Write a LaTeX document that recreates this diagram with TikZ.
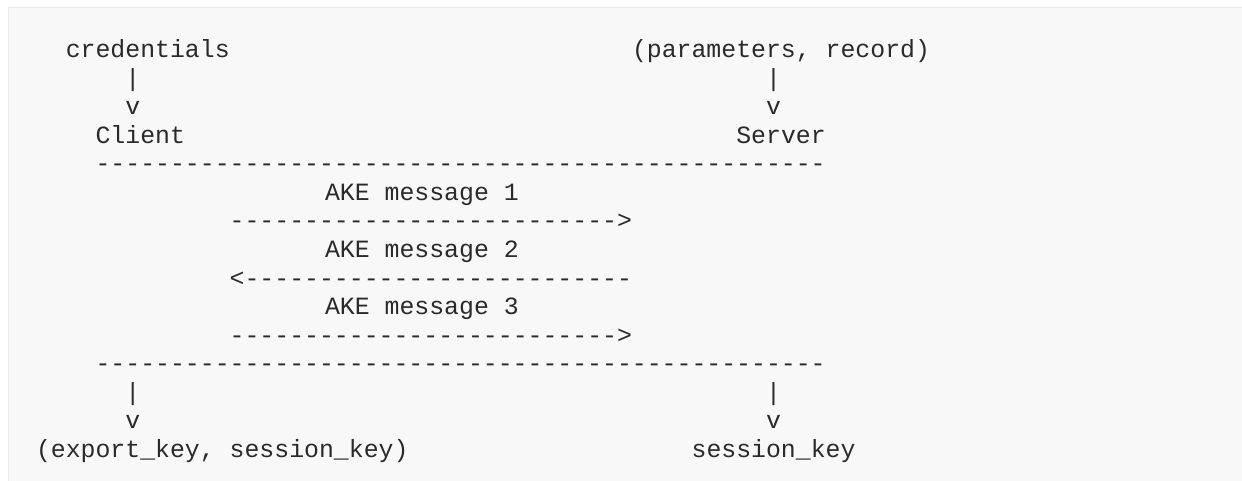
\documentclass[tikz,border=0pt]{standalone}
\usepackage{fontspec}
\setmonofont{Liberation Mono}
\definecolor{bg}{HTML}{F8F8F8}
\definecolor{bd}{HTML}{EBEBEB}
\definecolor{ink}{HTML}{2A2A2A}
\begin{document}
\begin{tikzpicture}[x=1pt,y=-1pt,
  txt/.style={anchor=base west, inner sep=0pt, outer sep=0pt,
    font=\ttfamily\fontsize{24.83pt}{28.5pt}\selectfont, text=ink}]
\def\w{14.9}
\def\xo{36}
\useasboundingbox (0,0) rectangle (1242,481);
\fill[white] (0,0) rectangle (1242,481);
\filldraw[fill=bg, draw=bd, line width=1.5pt] (8.5,7.5) rectangle (1260,500);
% line 0
\node[txt] (cred) at ({\xo+2*\w},58) {credentials};
\node[txt] (par) at ({\xo+40*\w},58) {(parameters, record)};
% lines 1-2
\node[txt] (p1) at ({\xo+6*\w},86.5) {|};
\node[txt] (p2) at ({\xo+49*\w},86.5) {|};
\node[txt] (v1) at ({\xo+6*\w},115) {v};
\node[txt] (v2) at ({\xo+49*\w},115) {v};
% line 3
\node[txt] (client) at ({\xo+4*\w},143.5) {Client};
\node[txt] (server) at ({\xo+47*\w},143.5) {Server};
% line 4
\node[txt] (top) at ({\xo+4*\w},172) {-------------------------------------------------};
% AKE messages
\node[txt] (m1) at ({\xo+19.4*\w},200.5) {AKE message 1};
\node[txt] (a1) at ({\xo+13*\w},229) {-------------------------->};
\node[txt] (m2) at ({\xo+19.4*\w},257.5) {AKE message 2};
\node[txt] (a2) at ({\xo+13*\w},286) {<--------------------------};
\node[txt] (m3) at ({\xo+19.4*\w},314.5) {AKE message 3};
\node[txt] (a3) at ({\xo+13*\w},343) {-------------------------->};
% line 11
\node[txt] (bot) at ({\xo+4*\w},371.5) {-------------------------------------------------};
% lines 12-13
\node[txt] (p3) at ({\xo+6*\w},400) {|};
\node[txt] (p4) at ({\xo+49*\w},400) {|};
\node[txt] (v3) at ({\xo+6*\w},428.5) {v};
\node[txt] (v4) at ({\xo+49*\w},428.5) {v};
% line 14
\node[txt] (ck) at ({\xo},457) {(export\_key, session\_key)};
\node[txt] (sk) at ({\xo+44*\w},457) {session\_key};
\end{tikzpicture}
\end{document}
